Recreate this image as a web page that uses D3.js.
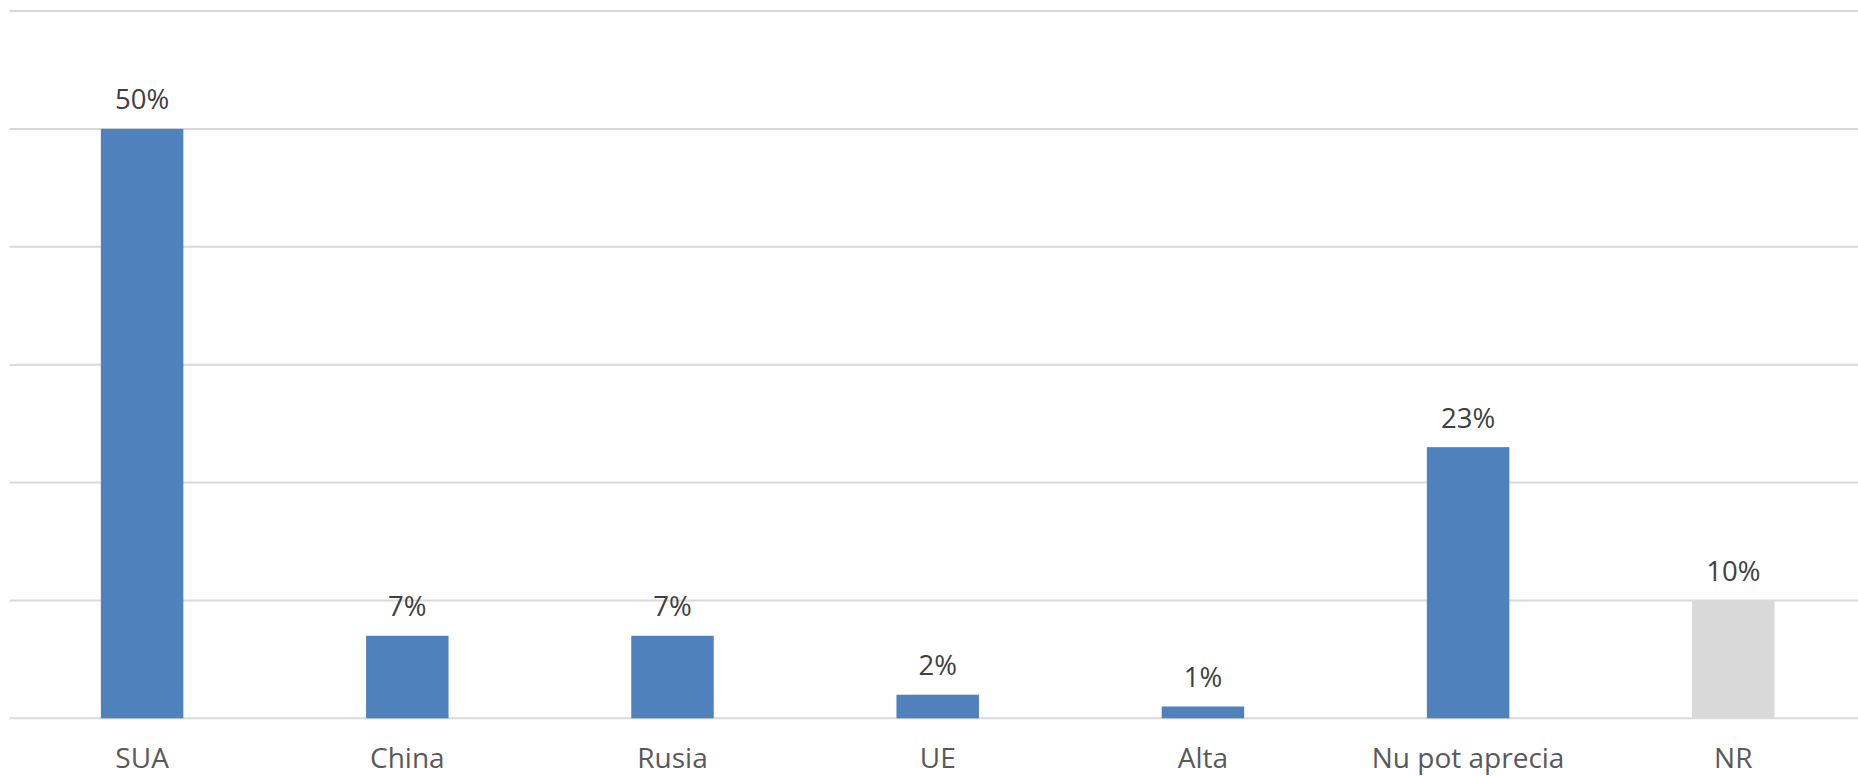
<!DOCTYPE html>
<html>
<head>
<meta charset="utf-8">
<script src="https://cdn.jsdelivr.net/npm/d3@7"></script>
<style>
html,body{margin:0;padding:0;background:#fff;}
svg{display:block;}
</style>
</head>
<body>
<svg id="chart" width="1858" height="776"></svg>
<script>
const categories = ["SUA","China","Rusia","UE","Alta","Nu pot aprecia","NR"];
const values = [50,7,7,2,1,23,10];
const barColors = ["#4F81BD","#4F81BD","#4F81BD","#4F81BD","#4F81BD","#4F81BD","#D9D9D9"];
const yTicks = [0,10,20,30,40,50,60];

const svg = d3.select("#chart");
const W = 1858, H = 776;
const left = 9.5, right = 9.5 + 7*265.2;
const y = d3.scaleLinear().domain([0,60]).range([718.3, 11]);
const x = d3.scaleBand().domain(categories).range([left, right]).paddingInner(0.689).paddingOuter(0.3445);

// gridlines
svg.append("g").selectAll("line").data(yTicks).join("line")
  .attr("x1", left).attr("x2", W)
  .attr("y1", d => y(d)).attr("y2", d => y(d))
  .attr("stroke", "#D9D9D9").attr("stroke-width", 2);

// bars
svg.append("g").selectAll("rect").data(values).join("rect")
  .attr("x", (d,i) => x(categories[i]))
  .attr("width", x.bandwidth())
  .attr("y", d => y(d))
  .attr("height", d => y(0) - y(d))
  .attr("fill", (d,i) => barColors[i]);

// value labels
svg.append("g").selectAll("text").data(values).join("text")
  .attr("x", (d,i) => x(categories[i]) + x.bandwidth()/2)
  .attr("y", d => y(d) - 19.5)
  .attr("text-anchor", "middle")
  .attr("font-family", "'Open Sans', sans-serif")
  .attr("font-size", 27.5)
  .attr("fill", "#404040")
  .text(d => d + "%");

// category axis
const xAxis = d3.axisBottom(x).tickSize(0).tickPadding(0);
const gx = svg.append("g").attr("transform", `translate(0,${y(0)})`).call(xAxis);
gx.select(".domain").remove();
gx.selectAll("text")
  .attr("dy", null)
  .attr("y", 50)
  .attr("font-family", "'Open Sans', sans-serif")
  .attr("font-size", 28)
  .attr("fill", "#595959");
</script>
</body>
</html>
